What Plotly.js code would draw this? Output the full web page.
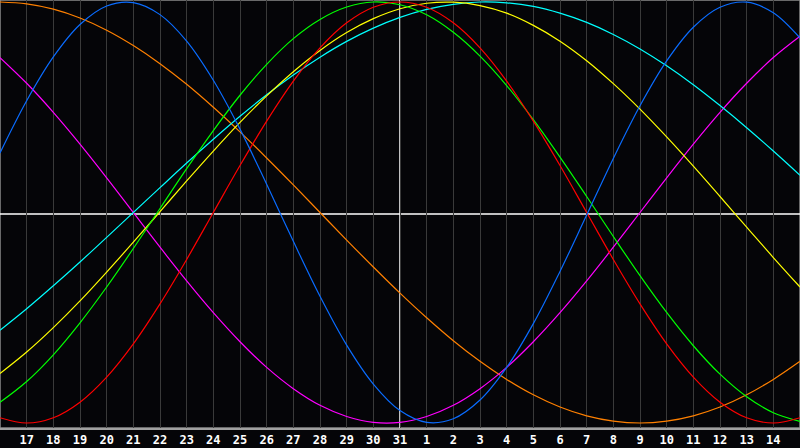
<!DOCTYPE html>
<html>
<head>
<meta charset="utf-8">
<script src="https://cdn.plot.ly/plotly-3.0.1.min.js"></script>
<style>
  html, body { margin: 0; padding: 0; background: #050508; }
  #chart { width: 800px; height: 448px; }
</style>
</head>
<body>
<div id="chart"></div>
<script>
// Day index 0..30 (index 0 = the 16th, index 15 = the 31st, index 30 = the 15th)
const dayIndex = [0,1,2,3,4,5,6,7,8,9,10,11,12,13,14,15,16,17,18,19,20,21,22,23,24,25,26,27,28,29,30];
const tickPositions = [1,2,3,4,5,6,7,8,9,10,11,12,13,14,15,16,17,18,19,20,21,22,23,24,25,26,27,28,29];
const tickLabels = ["17","18","19","20","21","22","23","24","25","26","27","28","29","30","31","1","2","3","4","5","6","7","8","9","10","11","12","13","14"];
const todayIndex = 15;

// Values (-1 .. 1)
const physical = [0.283,0.531,0.739,0.893,0.981,0.997,0.940,0.814,0.628,0.396,0.134,-0.137,-0.398,-0.630,-0.815,-0.941,-0.997,-0.980,-0.891,-0.736,-0.528,-0.280,-0.012,0.257,0.507,0.720,0.880,0.975,0.999,0.949,0.829];
const emotional = [-0.975,-1.000,-0.975,-0.901,-0.782,-0.624,-0.434,-0.223,0.000,0.223,0.434,0.624,0.782,0.901,0.975,1.000,0.975,0.901,0.782,0.624,0.434,0.223,0.000,-0.223,-0.434,-0.624,-0.782,-0.901,-0.975,-1.000,-0.975];
const intellectual = [-0.902,-0.803,-0.676,-0.524,-0.354,-0.171,0.019,0.208,0.389,0.557,0.704,0.826,0.917,0.976,1.000,0.987,0.939,0.856,0.743,0.603,0.441,0.263,0.076,-0.114,-0.300,-0.475,-0.633,-0.768,-0.875,-0.951,-0.992];
const intuitive = [0.736,0.614,0.476,0.325,0.165,0.000,-0.165,-0.325,-0.476,-0.614,-0.736,-0.837,-0.916,-0.969,-0.997,-0.997,-0.969,-0.916,-0.837,-0.736,-0.614,-0.476,-0.325,-0.165,0.000,0.165,0.325,0.476,0.614,0.736,0.837];
const aesthetic = [-0.765,-0.663,-0.547,-0.420,-0.283,-0.141,0.004,0.150,0.292,0.428,0.554,0.669,0.770,0.855,0.921,0.968,0.994,0.999,0.983,0.947,0.889,0.814,0.721,0.612,0.491,0.359,0.220,0.076,-0.070,-0.214,-0.354];
const awareness = [1.000,0.991,0.966,0.924,0.866,0.793,0.707,0.609,0.500,0.383,0.259,0.131,0.000,-0.131,-0.259,-0.383,-0.500,-0.609,-0.707,-0.793,-0.866,-0.924,-0.966,-0.991,-1.000,-0.991,-0.966,-0.924,-0.866,-0.793,-0.707];
const spiritual = [-0.559,-0.457,-0.348,-0.235,-0.118,0.000,0.118,0.235,0.348,0.457,0.559,0.653,0.738,0.813,0.876,0.927,0.965,0.989,1.000,0.996,0.979,0.947,0.903,0.846,0.777,0.697,0.607,0.508,0.403,0.292,0.177];

const seriesList = [
  {name: "Awareness", y: awareness, color: "#ff8000"},
  {name: "Intuitive", y: intuitive, color: "#ff00ff"},
  {name: "Spiritual", y: spiritual, color: "#00ffff"},
  {name: "Aesthetic", y: aesthetic, color: "#ffff00"},
  {name: "Intellectual", y: intellectual, color: "#00ff00"},
  {name: "Emotional", y: emotional, color: "#ff0000"},
  {name: "Physical", y: physical, color: "#0a6cff"}
];

const traces = seriesList.map(s => ({
  type: "scatter",
  mode: "lines",
  name: s.name,
  x: dayIndex,
  y: s.y,
  line: {color: s.color, width: 1.2, shape: "spline", smoothing: 1},
  hoverinfo: "skip"
}));

const layout = {
  width: 800,
  height: 448,
  margin: {l: 0, r: 0, t: 0, b: 20, pad: 0},
  paper_bgcolor: "#050508",
  plot_bgcolor: "#050508",
  showlegend: false,
  xaxis: {
    range: [0, 30],
    tickmode: "array",
    tickvals: tickPositions,
    ticktext: tickLabels,
    showgrid: true,
    gridcolor: "#3a3a3a",
    gridwidth: 1,
    zeroline: false,
    showline: true,
    linecolor: "#a0a0a0",
    linewidth: 1.5,
    ticks: "",
    ticklen: 0,
    tickfont: {family: "DejaVu Sans Mono", size: 12, color: "#ffffff", weight: "bold"},
    fixedrange: true
  },
  yaxis: {
    range: [-1.0238, 1.0095],
    showgrid: false,
    zeroline: false,
    showticklabels: false,
    showline: false,
    ticks: "",
    fixedrange: true
  },
  shapes: [
    {type: "rect", xref: "paper", yref: "paper", x0: 0, x1: 1, y0: 0, y1: 1,
     line: {color: "#8a8a8a", width: 1.5}, layer: "below"},
    {type: "line", xref: "paper", yref: "paper", x0: 0, x1: 1, y0: 0.5, y1: 0.5,
     line: {color: "#ffffff", width: 1.5}, layer: "below"},
    {type: "line", xref: "x", yref: "paper", x0: todayIndex, x1: todayIndex, y0: 0, y1: 1,
     line: {color: "#ffffff", width: 1.5}, layer: "below"}
  ]
};

Plotly.newPlot("chart", traces, layout, {staticPlot: true, displayModeBar: false});
</script>
</body>
</html>
